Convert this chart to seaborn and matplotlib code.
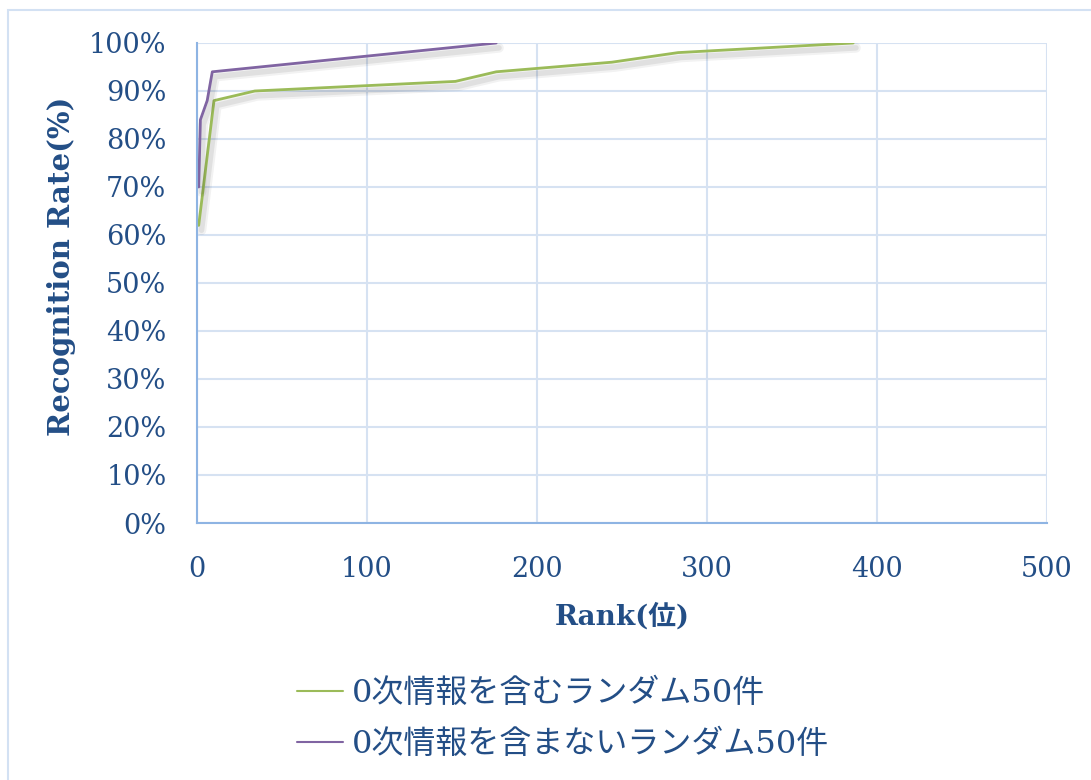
import matplotlib
matplotlib.use("Agg")
import matplotlib.pyplot as plt
import matplotlib.patheffects as pe
from matplotlib.patches import Rectangle
from matplotlib.lines import Line2D
import pandas as pd
import seaborn as sns

# Recognition rate by rank for two random samples of 50 items
series_with = "0次情報を含むランダム50件"
series_without = "0次情報を含まないランダム50件"

rank_with = [1, 10, 34, 152, 176, 244, 283, 386]
rate_with = [62, 88, 90, 92, 94, 96, 98, 100]

rank_without = [1, 2, 6, 9, 176]
rate_without = [70, 84, 88, 94, 100]

x_ticks = [0, 100, 200, 300, 400, 500]
y_ticks = [0, 10, 20, 30, 40, 50, 60, 70, 80, 90, 100]

df = pd.concat([
    pd.DataFrame({"rank": rank_with, "rate": rate_with, "series": series_with}),
    pd.DataFrame({"rank": rank_without, "rate": rate_without, "series": series_without}),
], ignore_index=True)

sns.set_theme(style="white")
plt.rcParams["font.family"] = ["DejaVu Serif", "Noto Sans CJK JP"]

text_color = "#234E86"
grid_color = "#D6E2F2"
spine_color = "#8EB4E3"
palette = {series_with: "#9BBB59", series_without: "#8064A2"}
order = [series_with, series_without]

fig = plt.figure(figsize=(10.91, 7.80), dpi=100)
ax = fig.add_axes([197 / 1091, 1 - 523 / 780, 850 / 1091, 480 / 780])

# outer chart frame
fig.patches.append(Rectangle((8 / 1091, -0.1), 1.2, 1 - 10 / 780 + 0.1,
                             transform=fig.transFigure, fill=False,
                             edgecolor="#D3E1F3", linewidth=1.5, zorder=0))

sns.lineplot(data=df, x="rank", y="rate", hue="series", palette=palette,
             hue_order=order, linewidth=2.0,
             sort=False, estimator=None, ax=ax, legend=False)

# soft drop shadow under each series line
for line in ax.get_lines():
    line.set_path_effects([
        pe.SimpleLineShadow(offset=(2, -3.5), shadow_color="black", alpha=0.05, linewidth=7),
        pe.SimpleLineShadow(offset=(2, -3.5), shadow_color="black", alpha=0.07, linewidth=4),
        pe.Normal(),
    ])

ax.set_xlim(0, 500)
ax.set_ylim(0, 100)
ax.set_xticks(x_ticks)
ax.set_yticks(y_ticks)
ax.set_yticklabels([f"{v}%" for v in y_ticks])
ax.tick_params(axis="both", length=0, labelsize=19.5, colors=text_color)
ax.tick_params(axis="x", pad=24)
ax.tick_params(axis="y", pad=22)

ax.grid(True, color=grid_color, linewidth=1.5)
ax.set_axisbelow(True)
for side in ["top", "right"]:
    ax.spines[side].set_visible(False)
for side in ["left", "bottom"]:
    ax.spines[side].set_color(spine_color)
    ax.spines[side].set_linewidth(1.5)

ax.set_xlabel("Rank(位)", fontsize=20, fontweight="bold", color=text_color, labelpad=14)
ax.set_ylabel("Recognition Rate(%)", fontsize=21, fontweight="bold", color=text_color,
              va="center")
ax.yaxis.set_label_coords(-0.159, 0.534)

handles = [Line2D([], [], color=palette[s], linewidth=1.5) for s in order]
leg = fig.legend(handles, order, loc="center left",
                 bbox_to_anchor=(268 / 1091, 1 - 719 / 780),
                 frameon=False, fontsize=23, handlelength=1.45,
                 handletextpad=0.28, labelspacing=0.62)
for t in leg.get_texts():
    t.set_color(text_color)

fig.savefig("out.png", dpi=100)
